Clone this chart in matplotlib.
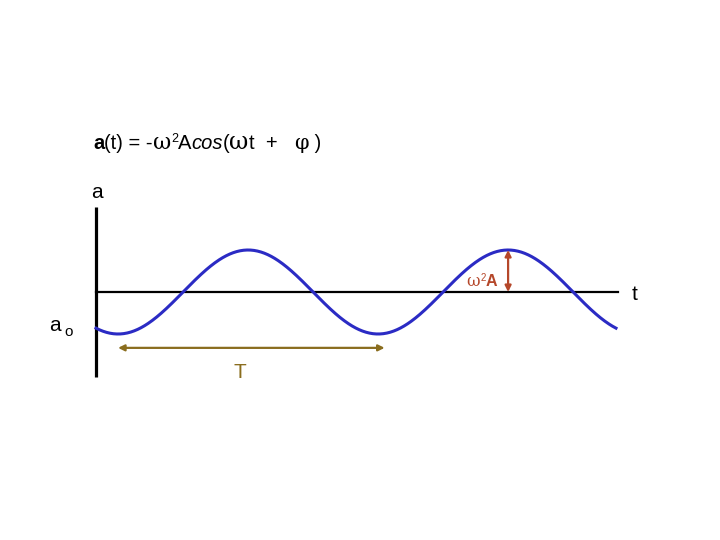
import numpy as np
import matplotlib
matplotlib.use("Agg")
import matplotlib.pyplot as plt

plt.rcParams["font.family"] = ["Liberation Sans", "DejaVu Sans"]

# curve parameters (time in periods, acceleration in units of w^2 A)
period = 1.0
amplitude = 1.0
t_min = 0.085          # time of first minimum
t_end = 2.0
t = np.linspace(0.0, t_end, 600)
a = -amplitude * np.cos(2 * np.pi * (t - t_min) / period)

# axes extents
axis_t_end = 2.008
axis_a_half = 2.02

# title pieces: (text, weight, style, family, fontsize, baseline shift in px)
SANS = "Liberation Sans"
GREEK = "DejaVu Serif"
title_parts = [
    ("a", "bold", "normal", SANS, 14.5, 0),
    ("(t) = -", "normal", "normal", SANS, 14.5, 0),
    ("ω", "normal", "normal", GREEK, 16, 0),
    ("2", "normal", "normal", SANS, 9, 7),
    ("A", "normal", "normal", SANS, 14.5, 0),
    ("cos", "normal", "italic", SANS, 14.5, 0),
    ("(", "normal", "normal", SANS, 14.5, 0),
    ("ω", "normal", "normal", GREEK, 17, 0),
    ("t  +   ", "normal", "normal", SANS, 14.5, 0),
    ("φ", "normal", "normal", GREEK, 15, 0),
    (" )", "normal", "normal", SANS, 14.5, 0),
]
amp_parts = [
    ("ω", "normal", "normal", GREEK, 12, 0),
    ("2", "normal", "normal", SANS, 7, 5),
    ("A", "bold", "normal", SANS, 11.5, 0),
]

# colours
CurveColor = "#2b2bc4"
PeriodColor = "#8a6d1e"
AmpColor = "#b5472a"

fig = plt.figure(figsize=(7.2, 5.4), dpi=100)
ax = fig.add_axes([0, 0, 1, 1])
ax.set_xlim(-96 / 260, 624 / 260)
ax.set_ylim(-248 / 42, 292 / 42)
ax.axis("off")
renderer = fig.canvas.get_renderer()


def RichText(x, y, parts, color="black"):
    # write pieces one after another on a common baseline
    px, py = ax.transData.transform((x, y))
    for txt, wt, st, fam, fs, dy in parts:
        tx = ax.text(px, py + dy, txt, fontsize=fs, fontweight=wt, fontstyle=st,
                     family=[fam, "DejaVu Sans"], color=color, ha="left",
                     va="baseline", transform=None)
        px += tx.get_window_extent(renderer).width


# axes lines
ax.plot([0, 0], [-axis_a_half, axis_a_half], color="black", lw=2.3, solid_capstyle="butt")
ax.plot([0, axis_t_end], [0, 0], color="black", lw=1.6)

# the wave
ax.plot(t, a, color=CurveColor, lw=2.2)

# period arrow
ax.annotate("", xy=(t_min, -1.33), xytext=(t_min + period + 0.025, -1.33),
            arrowprops=dict(arrowstyle="<|-|>", color=PeriodColor, lw=1.6,
                            mutation_scale=9, shrinkA=0, shrinkB=0))
ax.text(0.555, -1.92, "T", color=PeriodColor, fontsize=15, ha="center", va="center")

# amplitude arrow
t_peak = t_min + 1.5 * period
ax.annotate("", xy=(t_peak, amplitude), xytext=(t_peak, 0),
            arrowprops=dict(arrowstyle="<|-|>", color=AmpColor, lw=1.6,
                            mutation_scale=9, shrinkA=0, shrinkB=0))
RichText(t_peak - 0.16, 0.15, amp_parts, color=AmpColor)

# title
RichText(-0.012, 3.4, title_parts)

ax.text(-0.02, 2.36, "a", fontsize=15, ha="left", va="center")
ax.text(2.07, -0.07, "t", fontsize=15, ha="center", va="center")
ax.text(-0.18, -0.8, "a", fontsize=15, ha="left", va="center")
ax.text(-0.12, -0.95, "o", fontsize=11, ha="left", va="center")

fig.savefig("out.png", dpi=100)
